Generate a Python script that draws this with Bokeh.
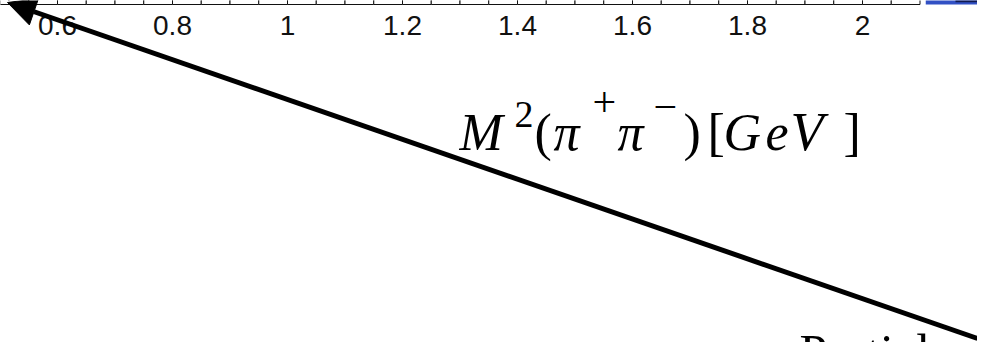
from bokeh.plotting import figure
from bokeh.models import Range1d, Label, Arrow, NormalHead, ColumnDataSource
from bokeh.embed import file_html
from bokeh.resources import INLINE
from bokeh.core.properties import value

# ---------------- data ----------------
# histogram bins (only their lower edge strip is visible in the crop)
bin_left = [0.50, 0.55, 0.60, 0.65, 0.70, 0.75, 0.80, 0.85, 0.90, 0.95,
            1.00, 1.05, 1.10, 1.15, 1.20, 1.25, 1.30, 1.35, 1.40, 1.45,
            1.50, 1.55, 1.60, 1.65, 1.70, 1.75, 1.80, 1.85, 1.90, 1.95,
            2.00, 2.05]
bin_right = [0.55, 0.60, 0.65, 0.70, 0.75, 0.80, 0.85, 0.90, 0.95, 1.00,
             1.05, 1.10, 1.15, 1.20, 1.25, 1.30, 1.35, 1.40, 1.45, 1.50,
             1.55, 1.60, 1.65, 1.70, 1.75, 1.80, 1.85, 1.90, 1.95, 2.00,
             2.05, 2.10]
# bar heights run off the top of the crop
bin_counts = [60, 80, 120, 150, 170, 190, 200, 210, 220, 230,
              240, 235, 230, 220, 210, 200, 190, 180, 170, 160,
              150, 140, 130, 120, 110, 100, 90, 80, 70, 60,
              50, 40]
# blue (second) histogram piece visible at the far right
blue_left = [2.11]
blue_right = [2.25]
blue_counts = [100]

tick_values = [0.6, 0.8, 1.0, 1.2, 1.4, 1.6, 1.8, 2.0]
tick_labels = ["0.6", "0.8", "1", "1.2", "1.4", "1.6", "1.8", "2"]

axis_title_parts = ["M", "2", "(", "π", "+", "π", "−", ")", "[",
                    "G", "e", "V", "]"]
partial_text = "Partial"

# ---------------- layout helpers (pixel measurements -> data) ----------------
W, H = 977, 342


def xd(sx):
    return 0.6 + (sx - 57) / 575.0


def yd(sy):
    return 4.0 - sy


def ybase(sy, size):
    # alphabetic baseline at screen px sy for a font of `size` px
    return yd(sy - 0.34 * size)


p = figure(width=W, height=H, output_backend="svg", toolbar_location=None,
           x_range=Range1d(xd(0), xd(W)), y_range=Range1d(yd(H), yd(0)),
           x_axis_location=None, y_axis_location=None, min_border=0,
           background_fill_color="white", border_fill_color="white")
p.grid.visible = False
p.outline_line_color = None

hist = ColumnDataSource(dict(left=bin_left, right=bin_right,
                             top=bin_counts, bottom=[0] * len(bin_left)))
p.quad(left="left", right="right", top="top", bottom="bottom", source=hist,
       fill_color="white", line_color="#111111", line_width=1)

blue = ColumnDataSource(dict(left=blue_left, right=blue_right,
                             top=blue_counts, bottom=[0] * len(blue_left)))
p.quad(left="left", right="right", top="top", bottom="bottom", source=blue,
       fill_color="#3150c4", line_color=None)
p.segment(x0=[xd(955)], y0=[yd(0.7)], x1=[xd(W)], y1=[yd(0.7)],
          line_color="#101a50", line_width=2)

# tick labels
TICK_SIZE = 28
ticks = ColumnDataSource(dict(x=tick_values,
                              y=[ybase(35, TICK_SIZE)] * len(tick_values),
                              t=tick_labels))
p.text(x="x", y="y", text="t", source=ticks, text_align="center",
       text_baseline="alphabetic", text_font=value("Liberation Sans"),
       text_font_size=f"{TICK_SIZE}px", text_color="#111111")

# arrow
p.add_layout(Arrow(x_start=xd(977), y_start=yd(338), x_end=xd(7), y_end=yd(2),
                   line_width=5, line_color="black",
                   end=NormalHead(size=28, fill_color="black",
                                  line_color="black", line_width=1)))

# axis title pieces: (left px, baseline px, size px, style)
title_layout = [
    (459, 150, 52, "italic"),   # M
    (514, 127, 38, "normal"),   # 2
    (534, 150, 52, "normal"),   # (
    (553, 150, 52, "italic"),   # pi
    (592, 116, 42, "normal"),   # +
    (617, 150, 52, "italic"),   # pi
    (653, 121, 42, "normal"),   # -
    (683, 150, 52, "normal"),   # )
    (707, 150, 52, "normal"),   # [
    (723, 150, 52, "italic"),   # G
    (765, 150, 52, "italic"),   # e
    (790, 150, 54, "italic"),   # V
    (843, 150, 52, "normal"),   # ]
]
for txt, (sx, sy, size, style) in zip(axis_title_parts, title_layout):
    p.add_layout(Label(x=xd(sx), y=ybase(sy, size), text=txt,
                       text_align="left", text_baseline="alphabetic",
                       text_font="Liberation Serif",
                       text_font_size=f"{size}px",
                       text_font_style=style, text_color="black"))

# partially visible label at the bottom edge (raised a little so its top shows)
p.add_layout(Label(x=xd(799), y=ybase(368, 50), text=partial_text,
                   text_align="left", text_baseline="alphabetic",
                   text_font="Liberation Serif", text_font_size="50px",
                   text_color="black"))

open("out.html", "w").write(file_html(p, INLINE))
